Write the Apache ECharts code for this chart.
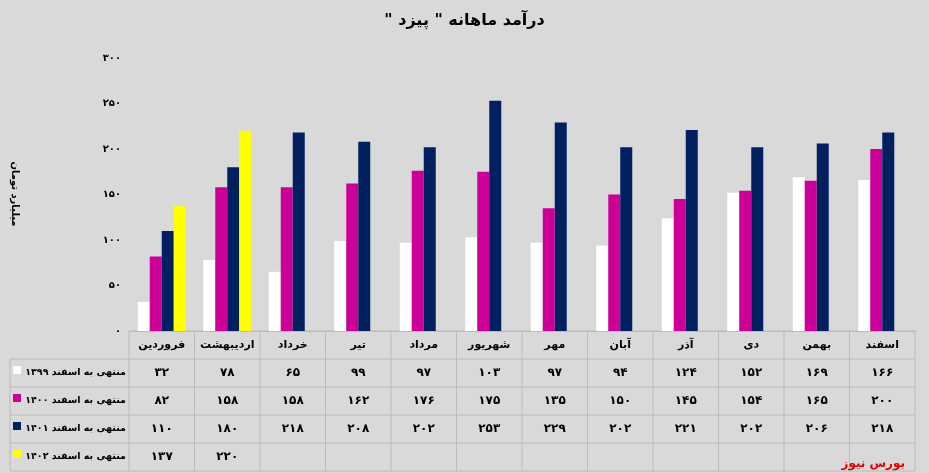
<!DOCTYPE html><html><head><meta charset="utf-8"><script src="https://cdn.jsdelivr.net/npm/echarts@6/dist/echarts.min.js"></script>
<style>html,body{margin:0;padding:0;background:#d9d9d9}#c{width:929px;height:473px}</style></head><body><div id="c"></div><script>
const categories=['فروردین','اردیبهشت','خرداد','تیر','مرداد','شهریور','مهر','آبان','آذر','دی','بهمن','اسفند'];
const s1399=[32,78,65,99,97,103,97,94,124,152,169,166];
const s1400=[82,158,158,162,176,175,135,150,145,154,165,200];
const s1401=[110,180,218,208,202,253,229,202,221,202,206,218];
const s1402=[137,220,null,null,null,null,null,null,null,null,null,null];
const seriesNames=['منتهی به اسفند ۱۳۹۹','منتهی به اسفند ۱۴۰۰','منتهی به اسفند ۱۴۰۱','منتهی به اسفند ۱۴۰۲'];
const colors=['#ffffff','#cc0099','#002060','#ffff00'];
const yTicks=[0,50,100,150,200,250,300];
const fa=n=>String(n).replace(/\d/g,d=>'۰۱۲۳۴۵۶۷۸۹'[d]);
const all=[s1399,s1400,s1401,s1402];
const L=129,R=14,T=58,B=142,W=929,H=473;
const cw=(W-L-R)/12, tableTop=H-B, rh=28, lx=10;
const g=[];
const font='bold 11px "DejaVu Sans"';
const RLM='\u200F';
const bottomY=tableTop+rh*5;
for(let i=0;i<=12;i++){const x=L+i*cw;g.push({type:'line',shape:{x1:x,y1:tableTop,x2:x,y2:bottomY},style:{stroke:'#bbb'}});}
g.push({type:'line',shape:{x1:lx,y1:tableTop+rh,x2:lx,y2:bottomY},style:{stroke:'#bbb'}});
for(let r=0;r<=5;r++){const y=tableTop+r*rh;g.push({type:'line',shape:{x1:r==0?L:lx,y1:y,x2:W-R,y2:y},style:{stroke:'#bbb'}});}
categories.forEach((c,i)=>g.push({type:'text',x:L+(i+0.5)*cw,y:tableTop+rh/2,style:{text:c,font,fill:'#000',align:'center',verticalAlign:'middle'}}));
all.forEach((s,r)=>{
 const y=tableTop+rh*(r+1.5);
 g.push({type:'rect',shape:{x:13,y:y-7,width:8,height:8},style:{fill:colors[r]}});
 g.push({type:'text',x:126,y:y,style:{text:RLM+seriesNames[r]+RLM,font:'bold 9.5px "DejaVu Sans"',fill:'#000',align:'right',verticalAlign:'middle'}});
 s.forEach((v,i)=>{if(v!=null)g.push({type:'text',x:L+(i+0.5)*cw,y:y,style:{text:fa(v),font:'bold 12px "DejaVu Sans"',fill:'#000',align:'center',verticalAlign:'middle'}});});
});
g.push({type:'text',x:905,y:464,style:{text:'بورس نیوز',font:'bold 12px "DejaVu Sans"',fill:'#e00000',align:'right',verticalAlign:'middle'}});
g.push({type:'text',x:15,y:194,rotation:-Math.PI/2,style:{text:'میلیارد تومان',font:'bold 10px "DejaVu Sans"',fill:'#000',align:'center',verticalAlign:'middle'}});
const chart=echarts.init(document.getElementById('c'));
chart.setOption({backgroundColor:'#d9d9d9',animation:false,
title:{text:RLM+'درآمد ماهانه " پیزد "'+RLM,left:'center',top:8,textStyle:{fontFamily:'DejaVu Sans',fontSize:16,fontWeight:'bold',color:'#000'}},
grid:{left:L,right:R,top:T,bottom:B},
xAxis:{type:'category',data:categories,axisLabel:{show:false},axisTick:{show:false},axisLine:{lineStyle:{color:'#bbb'}}},
yAxis:{type:'value',min:0,max:300,interval:50,splitLine:{show:false},axisLine:{show:false},axisTick:{show:false},
 axisLabel:{fontFamily:'DejaVu Sans',fontWeight:'bold',fontSize:10,color:'#000',formatter:v=>fa(v)}},
series:all.map((s,i)=>({type:'bar',name:seriesNames[i],data:s,barWidth:12,barGap:'0%',itemStyle:{color:colors[i]}})),
graphic:g});
</script></body></html>
